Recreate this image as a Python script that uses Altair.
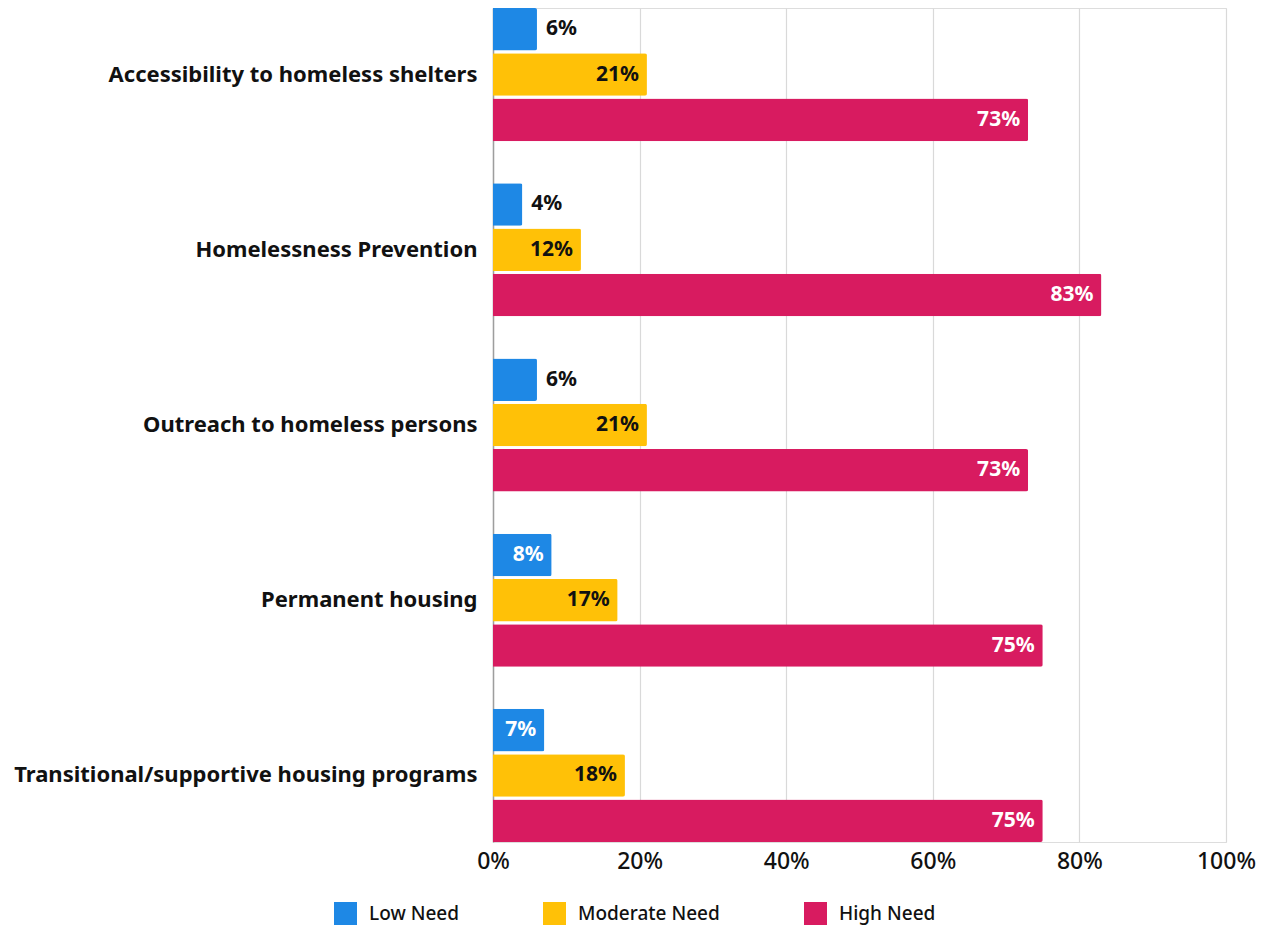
import altair as alt
import pandas as pd

categories = [
    "Accessibility to homeless shelters",
    "Homelessness Prevention",
    "Outreach to homeless persons",
    "Permanent housing",
    "Transitional/supportive housing programs",
]
series = ["Low Need", "Moderate Need", "High Need"]
low_need = [6, 4, 6, 8, 7]
moderate_need = [21, 12, 21, 17, 18]
high_need = [73, 83, 73, 75, 75]
colors = ["#1E88E5", "#FFC107", "#D81B60"]

rows = []
for i, c in enumerate(categories):
    for s, vals in zip(series, [low_need, moderate_need, high_need]):
        rows.append({"category": c, "series": s, "value": vals[i] / 100.0})
df = pd.DataFrame(rows)

FONT = "Noto Sans"

y_enc = alt.Y(
    "category:N",
    sort=categories,
    title=None,
    scale=alt.Scale(paddingInner=0.24, paddingOuter=0.0),
    axis=alt.Axis(
        labelFontSize=22,
        labelFontWeight="bold",
        labelColor="#111111",
        labelFont=FONT,
        labelPadding=16,
        ticks=False,
        grid=False,
        domain=True,
        domainColor="#9e9e9e",
        domainWidth=1.5,
        labelLimit=700,
    ),
)
yoff = alt.YOffset("series:N", sort=series, scale=alt.Scale(paddingInner=0.06, paddingOuter=0))
x_enc = alt.X(
    "value:Q",
    title=None,
    scale=alt.Scale(domain=[0, 1], nice=False),
    axis=alt.Axis(
        format=".0%",
        values=[0, 0.2, 0.4, 0.6, 0.8, 1.0],
        labelFontSize=23,
        labelFont=FONT,
        labelFontWeight=500,
        labelColor="#111111",
        labelPadding=8,
        ticks=False,
        domain=False,
        grid=True,
        gridColor="#d9d9d9",
        gridWidth=1.2,
        labelFlush=False,
    ),
)

bars = alt.Chart(df).mark_bar(cornerRadiusEnd=2).encode(
    y=y_enc,
    yOffset=yoff,
    x=x_enc,
    color=alt.Color(
        "series:N",
        sort=series,
        scale=alt.Scale(domain=series, range=colors),
        legend=alt.Legend(
            title=None,
            orient="none",
            direction="horizontal",
            legendX=-159,
            legendY=894,
            symbolType="square",
            symbolSize=529,
            symbolStrokeWidth=0,
            labelFontSize=19,
            labelFont=FONT,
            labelFontWeight=500,
            labelColor="#111111",
            columnPadding=84,
            labelOffset=12,
            symbolOpacity=1,
        ),
    ),
)

outside = alt.Chart(df).transform_filter(
    "datum.series == 'Low Need' && datum.value < 0.065"
).mark_text(align="left", baseline="middle", dx=9, fontSize=21, fontWeight="bold", font=FONT, color="#111111").encode(
    y=alt.Y("category:N", sort=categories),
    yOffset=alt.YOffset("series:N", sort=series),
    x="value:Q",
    text=alt.Text("value:Q", format=".0%"),
)

inside = alt.Chart(df).transform_filter(
    "!(datum.series == 'Low Need' && datum.value < 0.065)"
).mark_text(align="right", baseline="middle", dx=-8, fontSize=21, fontWeight="bold", font=FONT).encode(
    y=alt.Y("category:N", sort=categories),
    yOffset=alt.YOffset("series:N", sort=series),
    x="value:Q",
    text=alt.Text("value:Q", format=".0%"),
    color=alt.condition("datum.series == 'Moderate Need'", alt.value("#111111"), alt.value("#ffffff")),
)

chart = (
    alt.layer(bars, outside, inside)
    .properties(width=733, height=834, padding={"top": 0, "left": 5, "right": 5, "bottom": 5})
    .configure_view(strokeWidth=0, stroke="transparent", fill="white")
    .configure(background="white")
)

chart.save("out.html", embed_options={"renderer": "svg", "actions": False})
